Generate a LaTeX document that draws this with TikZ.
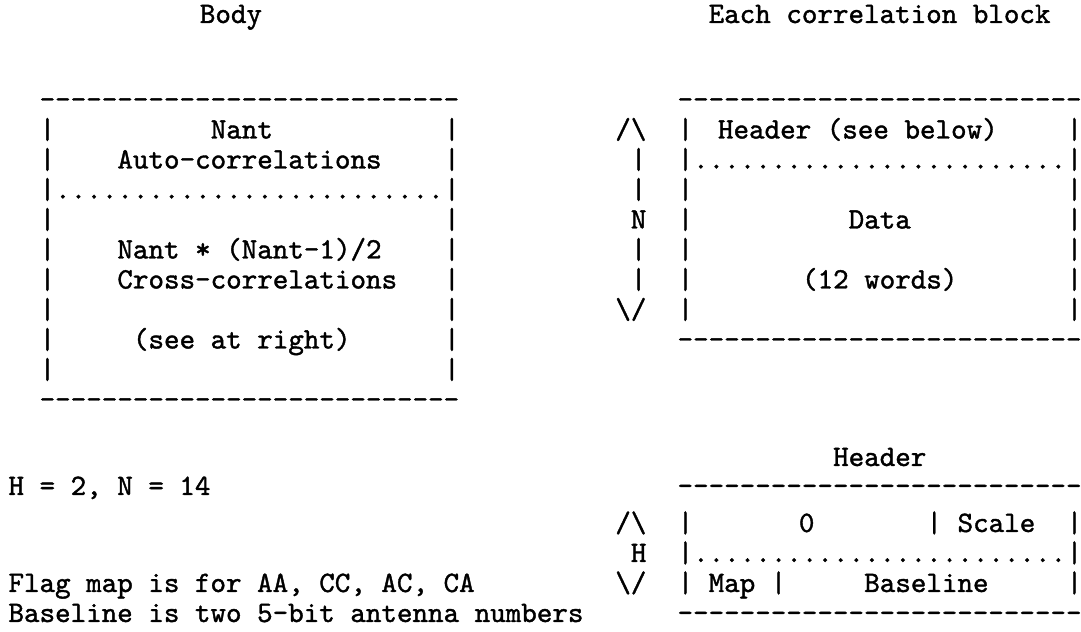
\documentclass[tikz,border=0pt]{standalone}
\usepackage{fontspec}
\newfontfamily\ttx{lmmono10-regular.otf}[Ligatures=TeXOff,FakeBold=1.3]
\tikzset{tt/.style={anchor=base west,inner sep=0pt,outer sep=0pt,
  font=\ttx\fontsize{29.6}{30}\selectfont,text=black}}
\newcommand\T[4]{\node[tt] (#1) at (#2,#3) {#4};}
\newcommand\dashA{---------------------------}% 27
\newcommand\dashB{--------------------------}% 26
\newcommand\dotA{.........................}% 25
\newcommand\dotB{........................}% 24
\begin{document}
\begin{tikzpicture}[x=15.56pt,y=-1pt]
\useasboundingbox (-0.546,0) rectangle (68.93,632);
\fill[white] (-0.546,0) rectangle (68.93,632);
% titles
\T{tBody}{12.3}{23}{Body}
\T{tEach}{45}{23}{Each correlation block}
% row 0
\T{lTop}{2}{108.5}{\dashA}
\T{rTop}{43}{108.5}{\dashB}
% row 1
\T{l1a}{2}{138.5}{|}
\T{nant}{13}{138.5}{Nant}
\T{l1b}{28}{138.5}{|}
\T{upN}{39}{138.5}{/\textbackslash}
\T{r1a}{43}{138.5}{|}
\T{hdr}{45.6}{138.5}{Header (see below)}
\T{r1b}{68}{138.5}{|}
% row 2
\T{l2a}{2}{168.5}{|}
\T{auto}{7}{168.5}{Auto-correlations}
\T{l2b}{28}{168.5}{|}
\T{a2}{40}{168.5}{|}
\T{r2a}{43}{168.5}{|}
\T{rDots}{44}{168.5}{\dotB}
\T{r2b}{68}{168.5}{|}
% row 3
\T{l3a}{2}{198.5}{|}
\T{lDots}{3}{198.5}{\dotA}
\T{l3b}{28}{198.5}{|}
\T{a3}{40}{198.5}{|}
\T{r3a}{43}{198.5}{|}
\T{r3b}{68}{198.5}{|}
% row 4
\T{l4a}{2}{228.5}{|}
\T{l4b}{28}{228.5}{|}
\T{nN}{40}{228.5}{N}
\T{r4a}{43}{228.5}{|}
\T{data}{54}{228.5}{Data}
\T{r4b}{68}{228.5}{|}
% row 5
\T{l5a}{2}{258.5}{|}
\T{cnt}{7}{258.5}{Nant * (Nant-1)/2}
\T{l5b}{28}{258.5}{|}
\T{a5}{40}{258.5}{|}
\T{r5a}{43}{258.5}{|}
\T{r5b}{68}{258.5}{|}
% row 6
\T{l6a}{2}{288.5}{|}
\T{cross}{7}{288.5}{Cross-correlations}
\T{l6b}{28}{288.5}{|}
\T{a6}{40}{288.5}{|}
\T{r6a}{43}{288.5}{|}
\T{words}{51}{288.5}{(12 words)}
\T{r6b}{68}{288.5}{|}
% row 7
\T{l7a}{2}{318.5}{|}
\T{l7b}{28}{318.5}{|}
\T{dnN}{39}{318.5}{\textbackslash/}
\T{r7a}{43}{318.5}{|}
\T{r7b}{68}{318.5}{|}
% row 8
\T{l8a}{2}{348.5}{|}
\T{seeat}{8}{348.5}{(see at right)}
\T{l8b}{28}{348.5}{|}
\T{rBot}{43}{348.5}{\dashB}
% row 9
\T{l9a}{2}{378.5}{|}
\T{l9b}{28}{378.5}{|}
% row 10
\T{lBot}{2}{408.5}{\dashA}
% header section
\T{tHdr}{53}{466}{Header}
\T{hn}{0}{495}{H = 2, N = 14}
\T{hTop}{43}{495}{\dashB}
\T{upH}{39}{532}{/\textbackslash}
\T{h1a}{43}{532}{|}
\T{zero}{50.8}{532}{0}
\T{h1m}{59}{532}{|}
\T{scale}{61}{532}{Scale}
\T{h1b}{68}{532}{|}
\T{hH}{40}{562}{H}
\T{h2a}{43}{562}{|}
\T{hDots}{44}{562}{\dotB}
\T{h2b}{68}{562}{|}
\T{flag}{0}{592}{Flag map is for AA, CC, AC, CA}
\T{dnH}{39}{592}{\textbackslash/}
\T{h3a}{43}{592}{|}
\T{map}{45}{592}{Map}
\T{h3m}{49}{592}{|}
\T{base}{55}{592}{Baseline}
\T{h3b}{68}{592}{|}
\T{bl}{0}{622}{Baseline is two 5-bit antenna numbers}
\T{hBot}{43}{622}{\dashB}
\end{tikzpicture}
\end{document}
